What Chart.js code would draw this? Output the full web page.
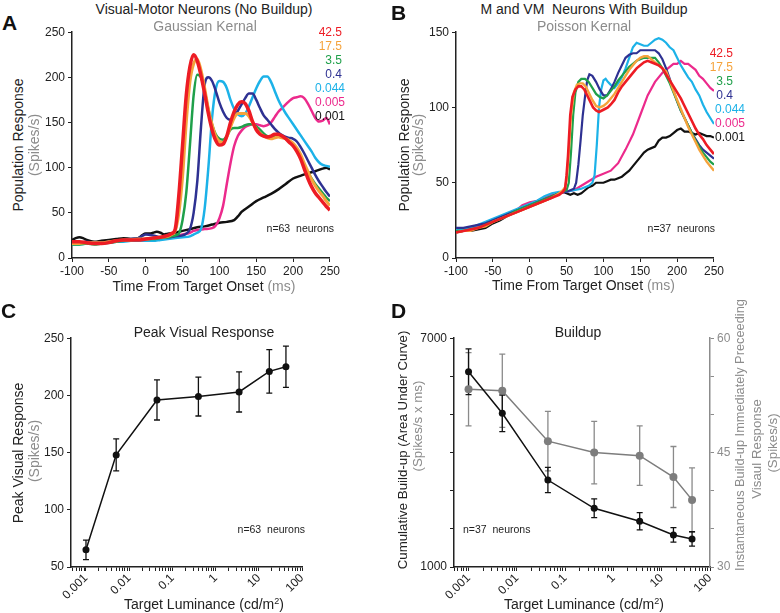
<!DOCTYPE html>
<html>
<head>
<meta charset="utf-8">
<script src="https://cdn.jsdelivr.net/npm/chart.js@4.4.1/dist/chart.umd.min.js"></script>
<style>
  body { margin: 0; background: #fff; }
  #page { position: relative; width: 780px; height: 613px; overflow: hidden;
          font-family: 'Liberation Sans', Arial, sans-serif; color: #222; }
  canvas { position: absolute; }
  .t { position: absolute; white-space: nowrap; line-height: 1; }
  .g { color: #8c8c8c; }
</style>
</head>
<body>
<div id="page"></div>
<script>
// ---- data ----
const lumLabels = ['42.5', '17.5', '3.5', '0.4', '0.044', '0.005', '0.001'];
const curveColors = ['#ed1c24', '#f5a33c', '#1fa04a', '#2e3192', '#1cb2e8', '#ec2a8c', '#111111'];

// Panel A: visual-motor neurons, [time ms, spikes/s]
const aRed = [[-100,18],[-90,18],[-80,17],[-70,16],[-60,16],[-50,17],[-40,19],[-30,20],[-20,20],[-10,20],[0,21],[10,22],[20,23],[30,25],[35,27],[40,32],[45,70],[50,125],[55,180],[60,212],[65,225],[70,218],[75,202],[80,182],[85,160],[90,142],[95,130],[100,125],[105,126],[110,135],[115,150],[120,162],[125,170],[130,173],[135,171],[140,163],[145,151],[150,142],[155,137],[160,135],[165,134],[170,135],[175,137],[180,137],[185,135],[190,132],[195,128],[200,124],[205,118],[210,110],[215,99],[220,88],[225,79],[230,72],[235,67],[240,62],[245,57],[250,53]];
const aOrange = [[-100,16],[-90,16],[-80,17],[-70,17],[-60,17],[-50,18],[-40,19],[-30,20],[-20,20],[-10,21],[0,21],[10,22],[20,23],[30,24],[35,26],[40,30],[45,50],[50,90],[55,150],[60,195],[65,215],[70,220],[75,208],[80,188],[85,165],[90,148],[95,135],[100,129],[105,128],[110,134],[115,145],[120,155],[125,160],[130,160],[135,160],[140,157],[145,150],[150,143],[155,138],[160,135],[165,133],[170,132],[175,133],[180,134],[185,133],[190,132],[195,130],[200,127],[205,122],[210,115],[215,105],[220,96],[225,87],[230,80],[235,74],[240,69],[245,63],[250,58]];
const aGreen = [[-100,15],[-90,15],[-80,16],[-70,15],[-60,16],[-50,17],[-40,18],[-30,19],[-20,20],[-10,20],[0,21],[10,21],[20,22],[30,23],[40,25],[45,27],[50,42],[55,72],[60,125],[65,180],[70,203],[75,200],[80,185],[85,165],[90,148],[95,137],[100,132],[105,131],[110,135],[115,142],[120,144],[125,144],[130,145],[135,147],[140,148],[145,148],[150,146],[155,142],[160,138],[165,135],[170,134],[175,134],[180,135],[185,134],[190,132],[195,129],[200,126],[205,120],[210,112],[215,103],[220,95],[225,88],[230,82],[235,77],[240,72],[245,67],[250,63]];
const aNavy = [[-100,17],[-90,17],[-80,18],[-70,17],[-60,17],[-50,18],[-40,19],[-30,20],[-20,21],[-10,22],[0,26],[10,25],[20,23],[30,23],[40,24],[50,25],[55,27],[60,32],[65,50],[70,85],[75,145],[80,192],[85,200],[90,196],[95,185],[100,172],[105,162],[110,155],[115,153],[120,156],[125,163],[130,170],[135,177],[140,182],[145,182],[150,175],[155,166],[160,158],[165,153],[170,148],[175,143],[180,139],[185,136],[190,134],[195,133],[200,132],[205,129],[210,123],[215,116],[220,108],[225,100],[230,92],[235,85],[240,79],[245,73],[250,68]];
const aCyan = [[-100,15],[-90,15],[-80,16],[-70,16],[-60,16],[-50,17],[-40,18],[-30,18],[-20,19],[-10,19],[0,19],[10,19],[20,20],[30,21],[40,22],[50,23],[60,24],[65,26],[70,28],[75,32],[80,55],[85,100],[90,155],[95,187],[100,196],[105,195],[110,188],[115,175],[120,165],[125,159],[130,157],[135,160],[140,168],[145,178],[150,188],[155,196],[160,201],[165,201],[170,195],[175,185],[180,175],[185,167],[190,160],[195,154],[200,148],[205,142],[210,136],[215,130],[220,124],[225,118],[230,111],[235,106],[240,103],[245,102],[250,101]];
const aMagenta = [[-100,16],[-90,16],[-80,17],[-70,17],[-60,17],[-50,18],[-40,18],[-30,19],[-20,20],[-10,21],[0,21],[10,22],[20,22],[30,23],[40,24],[50,26],[60,28],[65,30],[70,31],[80,32],[90,33],[95,36],[100,44],[105,58],[110,82],[115,105],[120,124],[125,135],[130,141],[135,145],[140,147],[145,148],[150,148],[155,147],[160,146],[165,147],[170,150],[175,156],[180,162],[185,166],[190,170],[195,174],[200,177],[205,178],[210,179],[215,177],[220,171],[225,163],[230,155],[235,151],[240,152],[245,155],[250,148]];
const aBlack = [[-100,20],[-95,22],[-90,23],[-85,22],[-80,20],[-70,18],[-60,19],[-50,20],[-40,21],[-30,22],[-20,21],[-10,22],[-5,25],[0,27],[5,27],[10,28],[15,29],[20,28],[25,26],[30,27],[40,28],[50,30],[60,32],[70,34],[80,35],[90,37],[100,39],[110,40],[120,42],[125,46],[130,51],[140,57],[150,63],[160,67],[170,71],[180,76],[190,82],[200,88],[210,91],[220,94],[230,96],[240,99],[245,100],[250,98]];

// Panel B: M and VM neurons with buildup, [time ms, spikes/s]
const bRed = [[-100,17],[-90,18],[-80,19],[-70,20],[-60,22],[-50,24],[-40,26],[-30,28],[-20,30],[-10,32],[0,34],[10,36],[20,38],[30,40],[40,42],[45,44],[48,46],[50,55],[52,68],[55,95],[58,107],[62,112],[66,114],[70,114],[74,112],[78,108],[82,104],[86,100],[90,98],[94,97],[98,98],[102,99],[106,100],[110,102],[115,105],[120,110],[125,114],[130,117],[135,120],[140,123],[145,126],[150,128],[155,130],[160,131],[165,130],[170,129],[175,128],[180,126],[185,122],[190,118],[195,114],[200,110],[205,106],[210,101],[215,96],[220,91],[225,86],[230,82],[235,79],[240,75],[245,72],[250,69]];
const bOrange = [[-100,17],[-90,18],[-80,18],[-70,20],[-60,21],[-50,24],[-40,26],[-30,28],[-20,30],[-10,32],[0,34],[10,36],[20,38],[30,40],[40,43],[45,45],[48,47],[50,52],[53,70],[56,95],[60,110],[64,115],[68,116],[72,116],[76,114],[80,110],[85,105],[90,101],[95,100],[100,101],[105,103],[110,106],[115,109],[120,113],[125,117],[130,121],[135,125],[140,128],[145,131],[150,133],[155,134],[160,134],[165,132],[170,130],[175,128],[180,126],[185,124],[190,118],[195,111],[200,105],[205,99],[210,93],[215,87],[220,82],[225,77],[230,72],[235,68],[240,64],[245,61],[250,58]];
const bGreen = [[-100,18],[-90,18],[-80,19],[-70,20],[-60,22],[-50,24],[-40,26],[-30,28],[-20,31],[-10,33],[0,35],[10,37],[20,39],[30,41],[40,43],[50,45],[53,50],[56,70],[59,95],[62,110],[66,117],[70,119],[75,119],[80,117],[85,113],[90,109],[95,107],[100,106],[105,108],[110,111],[115,114],[120,118],[125,121],[130,124],[135,127],[140,129],[145,131],[150,132],[155,133],[160,133],[165,133],[170,133],[175,130],[180,126],[185,121],[190,116],[195,110],[200,104],[205,98],[210,93],[215,88],[220,83],[225,78],[230,74],[235,70],[240,67],[245,64],[250,62]];
const bNavy = [[-100,20],[-90,20],[-80,21],[-70,22],[-60,23],[-50,25],[-40,27],[-30,29],[-20,31],[-10,33],[0,35],[10,37],[20,39],[30,41],[40,43],[50,44],[55,45],[60,46],[63,50],[66,62],[69,78],[72,95],[75,107],[78,118],[81,122],[85,121],[90,117],[95,112],[100,108],[105,108],[110,112],[115,117],[120,123],[125,128],[130,133],[135,135],[140,136],[145,136],[150,138],[155,138],[160,138],[165,138],[170,138],[175,136],[180,132],[185,126],[190,119],[195,111],[200,104],[205,98],[210,93],[215,88],[220,83],[225,79],[230,75],[235,72],[240,70],[245,68],[250,66]];
const bCyan = [[-100,19],[-90,19],[-80,20],[-70,22],[-60,24],[-50,26],[-40,28],[-30,30],[-20,32],[-10,34],[0,36],[10,38],[20,41],[30,43],[40,44],[50,44],[60,45],[70,46],[80,48],[85,50],[88,55],[91,75],[94,100],[97,112],[100,118],[103,119],[106,117],[110,115],[115,113],[120,116],[125,120],[130,126],[135,133],[140,140],[145,143],[150,142],[155,141],[160,141],[165,143],[170,145],[175,146],[180,145],[185,143],[190,140],[195,138],[200,133],[205,128],[210,124],[215,120],[220,117],[225,112],[230,108],[235,102],[240,97],[245,93],[250,89]];
const bMagenta = [[-100,18],[-90,18],[-80,19],[-70,21],[-60,23],[-50,25],[-40,27],[-30,29],[-20,31],[-10,35],[0,37],[10,38],[20,40],[30,42],[40,43],[50,44],[60,45],[70,48],[80,51],[90,54],[100,56],[110,58],[120,63],[130,72],[140,82],[150,95],[160,108],[170,117],[180,123],[190,127],[195,129],[200,129],[205,131],[210,129],[215,129],[220,127],[225,125],[230,121],[235,119],[240,116],[245,113],[250,111]];
const bBlack = [[-100,17],[-90,18],[-80,18],[-70,19],[-60,20],[-50,23],[-40,25],[-30,28],[-20,30],[-10,32],[0,34],[10,36],[20,38],[30,40],[40,43],[45,44],[50,43],[55,42],[60,43],[65,42],[70,43],[75,45],[80,47],[85,48],[90,50],[95,50],[100,50],[105,51],[110,52],[115,52],[120,53],[125,54],[130,56],[135,58],[140,61],[145,64],[150,67],[155,70],[160,72],[165,73],[170,74],[175,78],[180,80],[185,80],[190,81],[195,83],[200,85],[205,86],[210,84],[215,84],[220,83],[225,82],[230,83],[235,82],[240,81],[245,81],[250,80]];

// Panels C and D: target luminance (cd/m2)
const lum = [0.001, 0.005, 0.044, 0.4, 3.5, 17.5, 42.5];
const peakResp = [65, 148, 196, 199, 203, 221, 225];
const peakErr = [8.5, 14, 17.5, 17, 17.5, 19, 18];
const buildCum = [6120, 5030, 3280, 2540, 2200, 1840, 1735];
const buildCumErr = [600, 480, 330, 245, 225, 190, 190];
const buildInst = [53.3, 53.1, 46.5, 45.0, 44.6, 41.8, 38.8];
const buildInstErr = [4.8, 4.8, 3.9, 4.1, 3.9, 4.0, 4.2];

// ---- helpers ----
Chart.defaults.font.family = "'Liberation Sans', Arial, sans-serif";
Chart.defaults.color = '#222';
const page = document.getElementById('page');
const GRAY = '#8c8c8c';

function makeCanvas(left, top, w, h) {
  const c = document.createElement('canvas');
  c.width = w; c.height = h;
  c.style.left = left + 'px'; c.style.top = top + 'px';
  c.style.width = w + 'px'; c.style.height = h + 'px';
  page.appendChild(c);
  return c;
}

function label(html, x, y, o) {
  o = o || {};
  const d = document.createElement('div');
  d.className = 't';
  d.innerHTML = html;
  const size = o.size || 14;
  d.style.fontSize = size + 'px';
  if (o.color) d.style.color = o.color;
  if (o.bold) d.style.fontWeight = 'bold';
  d.style.left = x + 'px';
  if (o.rot) {
    d.style.top = y + 'px';
    d.style.transform = 'translate(-50%,-50%) rotate(-90deg)';
  } else {
    d.style.top = (y - 0.85 * size) + 'px';
    const a = o.align || 'center';
    d.style.transform = a === 'center' ? 'translateX(-50%)' : (a === 'right' ? 'translateX(-100%)' : 'none');
  }
  page.appendChild(d);
}

function grid(color) {
  return { display: true, drawOnChartArea: false, drawTicks: true, tickLength: 4, color: color || '#222', lineWidth: 1 };
}
function border(color) {
  return { display: true, color: color || '#222', width: 1.5 };
}

// error bars drawn from the dataset values through the chart's own scales
const errorBars = {
  id: 'errorBars',
  beforeDatasetsDraw(chart, args, opts) {
    const ctx = chart.ctx;
    (opts.sets || []).forEach(s => {
      const meta = chart.getDatasetMeta(s.index);
      const ds = chart.data.datasets[s.index];
      ctx.save();
      ctx.strokeStyle = s.color;
      ctx.lineWidth = 1.3;
      meta.data.forEach((pt, i) => {
        const v = ds.data[i].y, e = s.errors[i];
        const y1 = meta.yScale.getPixelForValue(v + e);
        const y2 = meta.yScale.getPixelForValue(v - e);
        ctx.beginPath();
        ctx.moveTo(pt.x, y1); ctx.lineTo(pt.x, y2);
        ctx.moveTo(pt.x - 3, y1); ctx.lineTo(pt.x + 3, y1);
        ctx.moveTo(pt.x - 3, y2); ctx.lineTo(pt.x + 3, y2);
        ctx.stroke();
      });
      ctx.restore();
    });
  }
};

function logTicks(scale) {
  const t = [];
  for (let e = -4; e <= 2; e++) {
    for (let d = 1; d <= 9; d++) {
      const v = +(d * Math.pow(10, e)).toPrecision(3);
      if (v >= scale.min * 0.999 && v <= scale.max * 1.001) t.push({ value: v });
    }
  }
  scale.ticks = t;
}
function logLabel(value) {
  const l = Math.log10(value);
  return Math.abs(l - Math.round(l)) < 1e-6 ? String(+value.toPrecision(1)) : '';
}

function timeChart(canvas, curves, widths, yMax, smooth) {
  return new Chart(canvas, {
    type: 'line',
    data: {
      datasets: curves.map((c, i) => ({
        data: c.map(p => ({ x: p[0], y: p[1] })),
        borderColor: curveColors[i],
        borderWidth: widths[i],
        pointRadius: 0,
        fill: false,
        tension: 0,
        cubicInterpolationMode: smooth ? 'monotone' : 'default'
      }))
    },
    options: {
      responsive: false,
      animation: false,
      layout: { padding: { top: 10, right: 12, left: 0, bottom: 0 } },
      plugins: { legend: { display: false }, tooltip: { enabled: false } },
      scales: {
        x: {
          type: 'linear', min: -100, max: 250,
          afterFit: s => { s.height = 26; },
          grid: grid(), border: border(),
          ticks: { stepSize: 50, font: { size: 12 }, padding: 2, color: '#222' }
        },
        y: {
          min: 0, max: yMax,
          afterFit: s => { s.width = 42; },
          grid: grid(), border: border(),
          ticks: { stepSize: 50, font: { size: 12 }, padding: 3, color: '#222' }
        }
      }
    }
  });
}

// ---- panel A ----
timeChart(makeCanvas(30, 22, 312, 262),
  [aRed, aOrange, aGreen, aNavy, aCyan, aMagenta, aBlack],
  [3.5, 3, 2.5, 2.5, 2.5, 2.5, 2.5], 250, true);

// ---- panel B ----
timeChart(makeCanvas(414, 22, 312, 262),
  [bRed, bOrange, bGreen, bNavy, bCyan, bMagenta, bBlack],
  [2.6, 2.4, 2.2, 2.2, 2.2, 2.2, 2.2], 150, false);

// ---- panel C ----
new Chart(makeCanvas(29, 328, 285, 272), {
  type: 'line',
  data: {
    datasets: [{
      data: lum.map((x, i) => ({ x: x, y: peakResp[i] })),
      borderColor: '#111', borderWidth: 1.5,
      pointRadius: 3.5, pointBackgroundColor: '#111', pointBorderWidth: 0, tension: 0
    }]
  },
  options: {
    responsive: false,
    animation: false,
    layout: { padding: { top: 10, right: 12, left: 0, bottom: 0 } },
    plugins: {
      legend: { display: false }, tooltip: { enabled: false },
      errorBars: { sets: [{ index: 0, errors: peakErr, color: '#111' }] }
    },
    scales: {
      x: {
        type: 'logarithmic', min: 0.00045, max: 100,
        afterBuildTicks: logTicks,
        afterFit: s => { s.height = 33; },
        grid: grid(), border: border(),
        ticks: { autoSkip: false, maxRotation: 45, minRotation: 45, font: { size: 12 }, padding: 0, color: '#222', callback: logLabel }
      },
      y: {
        min: 50, max: 250,
        afterFit: s => { s.width = 42; },
        grid: grid(), border: border(),
        ticks: { stepSize: 50, font: { size: 12 }, padding: 3, color: '#222' }
      }
    }
  },
  plugins: [errorBars]
});

// ---- panel D ----
new Chart(makeCanvas(412, 328, 330, 272), {
  type: 'line',
  data: {
    datasets: [{
      data: lum.map((x, i) => ({ x: x, y: buildCum[i] })),
      yAxisID: 'y',
      borderColor: '#111', borderWidth: 1.5,
      pointRadius: 3.5, pointBackgroundColor: '#111', pointBorderWidth: 0, tension: 0
    }, {
      data: lum.map((x, i) => ({ x: x, y: buildInst[i] })),
      yAxisID: 'y2',
      borderColor: '#7d7d7d', borderWidth: 1.5,
      pointRadius: 4, pointBackgroundColor: '#7d7d7d', pointBorderWidth: 0, tension: 0
    }]
  },
  options: {
    responsive: false,
    animation: false,
    layout: { padding: { top: 10, right: 0, left: 0, bottom: 0 } },
    plugins: {
      legend: { display: false }, tooltip: { enabled: false },
      errorBars: { sets: [
        { index: 1, errors: buildInstErr, color: '#8a8a8a' },
        { index: 0, errors: buildCumErr, color: '#111' }
      ] }
    },
    scales: {
      x: {
        type: 'logarithmic', min: 0.0005, max: 100,
        afterBuildTicks: logTicks,
        afterFit: s => { s.height = 33; },
        grid: grid(), border: border(),
        ticks: { autoSkip: false, maxRotation: 45, minRotation: 45, font: { size: 12 }, padding: 0, color: '#222', callback: logLabel }
      },
      y: {
        position: 'left', min: 1000, max: 7000,
        afterFit: s => { s.width = 42; },
        grid: grid(), border: border(),
        ticks: { stepSize: 1000, font: { size: 12 }, padding: 3, color: '#222',
                 callback: v => (v === 1000 || v === 7000) ? String(v) : '' }
      },
      y2: {
        position: 'right', min: 30, max: 60,
        afterFit: s => { s.width = 32; },
        grid: grid(GRAY), border: border(GRAY),
        ticks: { stepSize: 5, font: { size: 12 }, padding: 3, color: GRAY,
                 callback: v => (v === 30 || v === 45 || v === 60) ? String(v) : '' }
      }
    }
  },
  plugins: [errorBars]
});

// ---- text ----
// panel A
label('A', 2, 30, { size: 21, bold: true, align: 'left', color: '#111' });
label('Visual-Motor Neurons (No Buildup)', 204, 14);
label('Gaussian Kernal', 205, 31, { color: GRAY });
label('Population Response', 17.5, 144.5, { rot: true });
label('(Spikes/s)', 34, 144.5, { rot: true, color: GRAY });
label('Time From Target Onset <span class="g">(ms)</span>', 204, 291);
label('n=63&nbsp; neurons', 334, 231.5, { size: 10.5, align: 'right' });
lumLabels.forEach((s, i) => label(s, s.length > 4 ? 345 : 342, 36.5 + i * 14, { size: 12, align: 'right', color: curveColors[i] }));

// panel B
label('B', 391, 19.5, { size: 21, bold: true, align: 'left', color: '#111' });
label('M and VM&nbsp; Neurons With Buildup', 584, 14);
label('Poisson Kernal', 584, 31, { color: GRAY });
label('Population Response', 403.5, 145, { rot: true });
label('(Spikes/s)', 417.5, 145, { rot: true, color: GRAY });
label('Time From Target Onset <span class="g">(ms)</span>', 583.5, 290);
label('n=37&nbsp; neurons', 715, 231.5, { size: 10.5, align: 'right' });
lumLabels.forEach((s, i) => label(s, s.length > 4 ? 745 : 733, 57.3 + i * 13.9, { size: 12, align: 'right', color: curveColors[i] }));

// panel C
label('C', 1, 318, { size: 21, bold: true, align: 'left', color: '#111' });
label('Peak Visual Response', 204, 337);
label('Peak Visual Response', 17.5, 453, { rot: true });
label('(Spikes/s)', 34, 451, { rot: true, color: GRAY });
label('Target Luminance (cd/m<span style="font-size:9px;position:relative;top:-5px;line-height:0">2</span>)', 204, 609);
label('n=63&nbsp; neurons', 305, 533, { size: 10.5, align: 'right' });

// panel D
label('D', 391, 318, { size: 21, bold: true, align: 'left', color: '#111' });
label('Buildup', 578, 337);
label('Cumulative Build-up (Area Under Curve)', 403, 450, { rot: true, size: 13.3 });
label('(Spikes/s x ms)', 417.5, 426, { rot: true, color: GRAY, size: 13.3 });
label('Instantaneous Build-up Immediately Preceeding', 740, 435, { rot: true, color: GRAY, size: 12.8 });
label('Visaul Response', 757, 449, { rot: true, color: GRAY, size: 13.3 });
label('(Spikes/s)', 772.5, 443, { rot: true, color: GRAY, size: 13.3 });
label('Target Luminance (cd/m<span style="font-size:9px;position:relative;top:-5px;line-height:0">2</span>)', 584, 609);
label('n=37&nbsp; neurons', 463, 533, { size: 10.5, align: 'left' });
</script>
</body>
</html>
